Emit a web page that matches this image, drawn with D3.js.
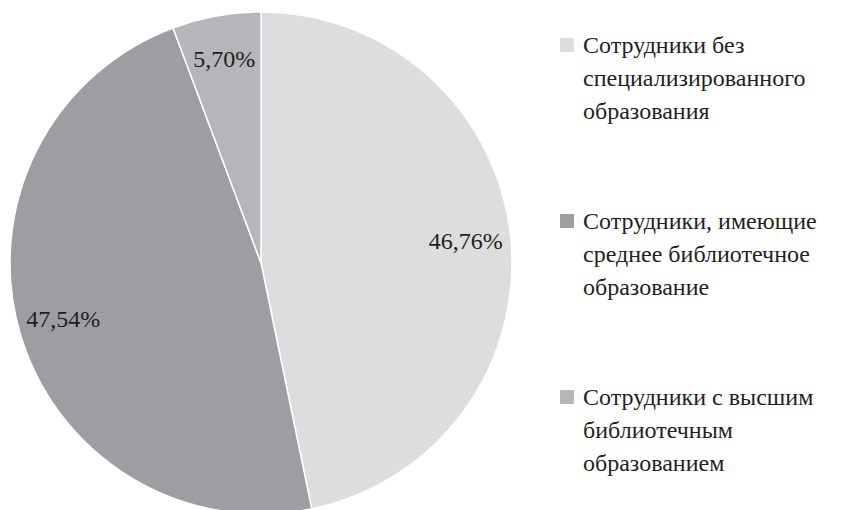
<!DOCTYPE html>
<html>
<head>
<meta charset="utf-8">
<script src="https://cdn.jsdelivr.net/npm/d3@7"></script>
</head>
<body style="margin:0">
<script>
const categories = [
    ['Сотрудники без', 'специализированного', 'образования'],
    ['Сотрудники, имеющие', 'среднее библиотечное', 'образование'],
    ['Сотрудники с высшим', 'библиотечным', 'образованием']
];
const values = [46.76, 47.54, 5.70];
const labels = ['46,76%', '47,54%', '5,70%'];
const colors = ['#dcdddf', '#9d9ea2', '#b5b6b9'];

const width = 847, height = 510;
const cx = 261, cy = 263, radius = 251;

const svg = d3.select('body').append('svg')
    .attr('width', width)
    .attr('height', height);

const pie = d3.pie().sort(null).value(d => d);
const arcs = pie(values);

const arc = d3.arc().innerRadius(0).outerRadius(radius);
const labelArc = d3.arc().innerRadius(radius * 0.82).outerRadius(radius * 0.82);

const g = svg.append('g').attr('transform', `translate(${cx},${cy})`);

g.selectAll('path')
    .data(arcs)
    .enter()
    .append('path')
    .attr('d', arc)
    .attr('fill', (d, i) => colors[i])
    .attr('stroke', '#fff')
    .attr('stroke-width', 1.5);

g.selectAll('text')
    .data(arcs)
    .enter()
    .append('text')
    .attr('text-anchor', 'middle')
    .attr('x', d => labelArc.centroid(d)[0])
    .attr('y', d => labelArc.centroid(d)[1] + 7)
    .attr('font-family', "'Times New Roman'")
    .attr('font-size', 24)
    .attr('fill', '#231f20')
    .text((d, i) => labels[i]);

// legend
const rowY = d3.scalePoint().domain(d3.range(categories.length)).range([45, 397]);

categories.forEach((lines, i) => {
    svg.append('rect')
        .attr('x', 560)
        .attr('y', rowY(i) - 7)
        .attr('width', 14)
        .attr('height', 14)
        .attr('fill', colors[i]);

    lines.forEach((line, j) => {
        svg.append('text')
            .attr('x', 583)
            .attr('y', rowY(i) + j * 33 + 8)
            .attr('font-family', "'Times New Roman'")
            .attr('font-size', 24)
            .attr('fill', '#231f20')
            .text(line);
    });
});
</script>
</body>
</html>
